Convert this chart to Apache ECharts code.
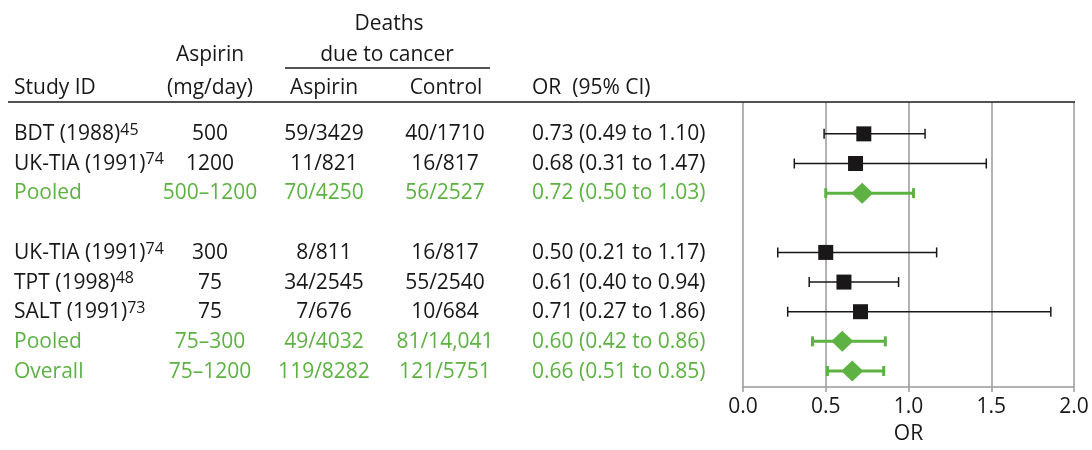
<!DOCTYPE html>
<html>
<head>
<meta charset="utf-8">
<script src="https://cdn.jsdelivr.net/npm/echarts@6/dist/echarts.min.js"></script>
<style>
  html, body { margin: 0; padding: 0; background: #fff; }
  #forest { width: 1092px; height: 450px; }
</style>
</head>
<body>
<div id="forest"></div>
<script>
  // rows (row 3 is the blank gap between the two dose groups)
  const rowPos = [0, 1, 2, 4, 5, 6, 7, 8];
  const studies = ['BDT (1988)', 'UK-TIA (1991)', 'Pooled', 'UK-TIA (1991)', 'TPT (1998)', 'SALT (1991)', 'Pooled', 'Overall'];
  const refs = ['45', '74', '', '74', '48', '73', '', ''];
  const dose = ['500', '1200', '500–1200', '300', '75', '75', '75–300', '75–1200'];
  const aspirinDeaths = ['59/3429', '11/821', '70/4250', '8/811', '34/2545', '7/676', '49/4032', '119/8282'];
  const controlDeaths = ['40/1710', '16/817', '56/2527', '16/817', '55/2540', '10/684', '81/14,041', '121/5751'];
  const orVal = [0.73, 0.68, 0.72, 0.50, 0.61, 0.71, 0.60, 0.66];
  const ciLow = [0.49, 0.31, 0.50, 0.21, 0.40, 0.27, 0.42, 0.51];
  const ciHigh = [1.10, 1.47, 1.03, 1.17, 0.94, 1.86, 0.86, 0.85];
  const pooled = [false, false, true, false, false, false, true, true];
  const xTicks = [0, 0.5, 1.0, 1.5, 2.0];

  const BLACK = '#1a1718';
  const GREEN = '#5db243';
  const FONT = '"Open Sans", "Noto Sans", sans-serif';
  const FS = 21;

  // table columns: x position and alignment
  const colX = [14, 210, 324, 445, 532];
  const colAlign = ['left', 'center', 'center', 'center', 'left'];

  const fmt = v => v.toFixed(2);
  const orText = orVal.map((v, i) => fmt(v) + ' (' + fmt(ciLow[i]) + ' to ' + fmt(ciHigh[i]) + ')');
  const studyText = studies.map((s, i) => refs[i] ? '{a|' + s + '}{s|' + refs[i] + '}' : '{a|' + s + '}');
  const columns = [studyText, dose, aspirinDeaths, controlDeaths, orText];

  const yMin = -1.075, yMax = 8.54;

  const tableSeries = columns.map((col, c) => ({
    type: 'scatter',
    xAxisIndex: 1,
    yAxisIndex: 1,
    symbolSize: 0,
    silent: true,
    clip: false,
    itemStyle: { color: 'transparent', opacity: 1 },
    data: col.map((t, i) => ({
      value: [colX[c], rowPos[i]],
      label: { color: pooled[i] ? GREEN : BLACK, rich: { a: { color: pooled[i] ? GREEN : BLACK } } }
    })),
    label: {
      show: true,
      opacity: 1,
      position: [0, 0],
      align: colAlign[c],
      verticalAlign: 'middle',
      fontFamily: FONT,
      fontSize: FS,
      textBorderWidth: 0,
      formatter: p => col[p.dataIndex],
      rich: {
        a: { fontFamily: FONT, fontSize: FS, lineHeight: 24, color: BLACK },
        s: { fontFamily: FONT, fontSize: 16, lineHeight: 6, verticalAlign: 'top', color: BLACK }
      }
    }
  }));

  function errorBars(flag, color, width) {
    const data = [];
    orVal.forEach((v, i) => {
      if (pooled[i] === flag) data.push([v, rowPos[i], ciLow[i], ciHigh[i]]);
    });
    return {
      type: 'custom',
      xAxisIndex: 0,
      yAxisIndex: 0,
      silent: true,
      data: data,
      renderItem: (params, api) => {
        const y = api.value(1);
        const a = api.coord([api.value(2), y]);
        const b = api.coord([api.value(3), y]);
        const h = 5;
        const st = { stroke: color, lineWidth: width };
        return {
          type: 'group',
          children: [
            { type: 'line', shape: { x1: a[0], y1: a[1], x2: b[0], y2: b[1] }, style: st },
            { type: 'line', shape: { x1: a[0], y1: a[1] - h, x2: a[0], y2: a[1] + h }, style: st },
            { type: 'line', shape: { x1: b[0], y1: b[1] - h, x2: b[0], y2: b[1] + h }, style: st }
          ]
        };
      }
    };
  }

  function markers(flag) {
    const data = [];
    orVal.forEach((v, i) => {
      if (pooled[i] === flag) data.push([v, rowPos[i]]);
    });
    return {
      type: 'scatter',
      xAxisIndex: 0,
      yAxisIndex: 0,
      silent: true,
      symbol: flag ? 'diamond' : 'rect',
      symbolSize: flag ? [22, 21] : 15,
      itemStyle: { color: flag ? GREEN : BLACK, opacity: 1 },
      z: 5,
      data: data
    };
  }

  const headFont = FS + 'px ' + FONT;
  const headers = [
    { text: 'Deaths', x: 389, y: 24, align: 'center' },
    { text: 'Aspirin', x: 210, y: 55, align: 'center' },
    { text: 'due to cancer', x: 387, y: 55, align: 'center' },
    { text: 'Study ID', x: 14, y: 88, align: 'left' },
    { text: '(mg/day)', x: 210, y: 88, align: 'center' },
    { text: 'Aspirin', x: 324, y: 88, align: 'center' },
    { text: 'Control', x: 446, y: 88, align: 'center' },
    { text: 'OR  (95% CI)', x: 532, y: 88, align: 'left' }
  ];

  const chart = echarts.init(document.getElementById('forest'), null, { renderer: 'canvas' });
  chart.setOption({
    backgroundColor: '#fff',
    animation: false,
    grid: [
      { left: 743, right: 18, top: 102, bottom: 62 },
      { left: 0, right: 0, top: 102, bottom: 62 }
    ],
    xAxis: [
      {
        gridIndex: 0,
        type: 'value',
        min: 0,
        max: 2,
        interval: 0.5,
        name: 'OR',
        nameLocation: 'middle',
        nameGap: 37,
        nameTextStyle: { fontFamily: FONT, fontSize: FS, color: BLACK },
        axisLine: { show: true, onZero: false, lineStyle: { color: '#9a9a9a', width: 1.5 } },
        axisTick: { show: true, length: 5, lineStyle: { color: '#9a9a9a', width: 1.5 } },
        axisLabel: {
          fontFamily: FONT, fontSize: FS, color: BLACK, margin: 10,
          formatter: v => xTicks.indexOf(v) >= 0 ? v.toFixed(1) : ''
        },
        splitLine: { show: true, lineStyle: { color: '#9a9a9a', width: 1.5 } }
      },
      { gridIndex: 1, type: 'value', min: 0, max: 1092, show: false }
    ],
    yAxis: [
      { gridIndex: 0, type: 'value', inverse: true, min: yMin, max: yMax, show: false },
      { gridIndex: 1, type: 'value', inverse: true, min: yMin, max: yMax, show: false }
    ],
    graphic: [
      { type: 'line', shape: { x1: 8, y1: 102, x2: 1075, y2: 102 }, style: { stroke: BLACK, lineWidth: 1.5 }, z: 10 },
      { type: 'line', shape: { x1: 285, y1: 68, x2: 490, y2: 68 }, style: { stroke: BLACK, lineWidth: 1.5 } }
    ].concat(headers.map(h => ({
      type: 'text',
      style: { text: h.text, x: h.x, y: h.y, align: h.align, verticalAlign: 'middle', font: headFont, fill: BLACK }
    }))),
    series: [
      errorBars(false, BLACK, 1.5),
      errorBars(true, GREEN, 3),
      markers(false),
      markers(true)
    ].concat(tableSeries)
  });
</script>
</body>
</html>
